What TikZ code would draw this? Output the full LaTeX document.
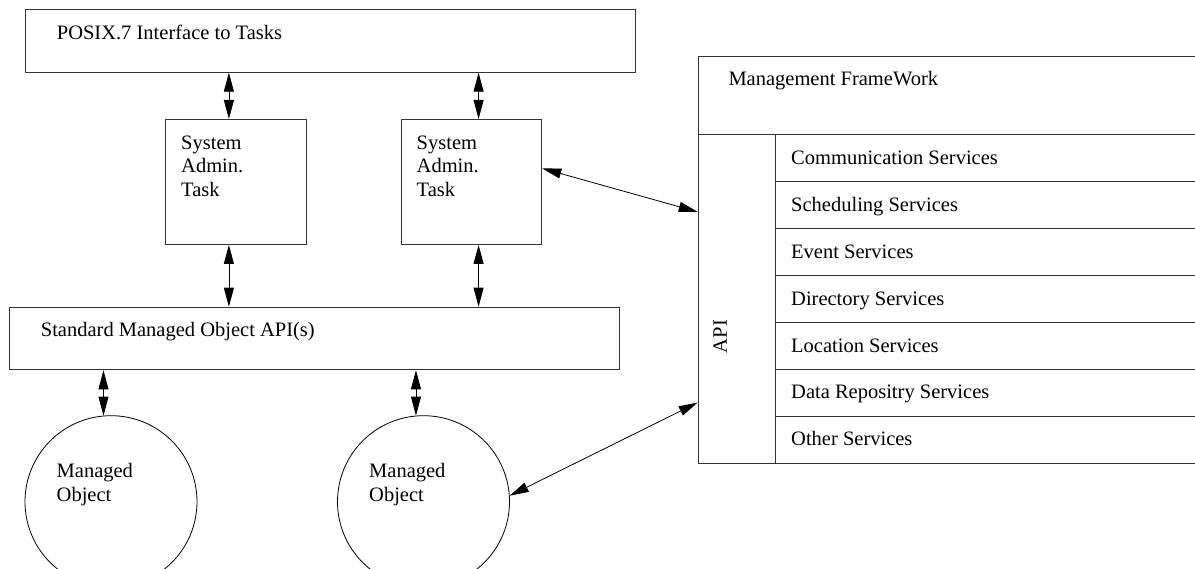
\documentclass[tikz,border=0pt]{standalone}
\usepackage{fontspec}
\setmainfont{Liberation Serif}
\usetikzlibrary{arrows.meta,calc}
\begin{document}
\begin{tikzpicture}[x=1pt,y=-1pt,
  box/.style={draw=black!80, line width=1pt, inner sep=0pt, anchor=north west},
  lbl/.style={anchor=base west, inner sep=0pt, font=\fontsize{20.5}{23.7}\selectfont},
  ml/.style={anchor=north west, inner sep=0pt, align=left, font=\fontsize{20.5}{23.7}\selectfont},
  arr/.style={{Triangle[length=19pt,width=10pt]}-{Triangle[length=19pt,width=10pt]}, line width=0.8pt},
  obj/.style={draw, circle, line width=0.8pt, minimum size=172pt, inner sep=0pt}]
\useasboundingbox (0,0) rectangle (1195,569);
\clip (0,0) rectangle (1195,569);
% top interface box
\node[box, minimum width=610.3pt, minimum height=62.4pt] (posix) at (24.7,9.3) {};
\node[lbl] (posixt) at (56.7,39.3) {POSIX.7 Interface to Tasks};
% system admin tasks
\node[box, minimum width=141pt, minimum height=125pt] (sa1) at (165,119) {};
\node[ml] (sa1t) at (181,135.3) {System\\Admin.\\Task};
\node[box, minimum width=140.6pt, minimum height=125pt] (sa2) at (400.7,119) {};
\node[ml] (sa2t) at (416.5,135.3) {System\\Admin.\\Task};
% standard managed object API
\node[box, minimum width=610.3pt, minimum height=62.6pt] (std) at (9,306.7) {};
\node[lbl] (stdt) at (40.7,336.7) {Standard Managed Object API(s)};
% managed objects
\node[obj] (c1) at (111,501.7) {};
\node[ml] (c1t) at (56.5,463) {Managed\\Object};
\node[obj] (c2) at (423.5,501.7) {};
\node[ml] (c2t) at (369,463) {Managed\\Object};
% management framework
\node[box, minimum width=510pt, minimum height=78.3pt] (fw) at (697.7,56) {};
\node[lbl] (fwt) at (728.3,86) {Management FrameWork};
\node[box, minimum width=77.3pt, minimum height=328.7pt] (apicol) at (697.7,134.3) {};
\node[lbl, anchor=center, rotate=90] (apit) at (720,336.5) {API};
\node[box, minimum width=430pt, minimum height=47pt] (r1) at (775,134.3) {};
\node[box, minimum width=430pt, minimum height=47pt] (r2) at (775,181.3) {};
\node[box, minimum width=430pt, minimum height=47pt] (r3) at (775,228.3) {};
\node[box, minimum width=430pt, minimum height=47pt] (r4) at (775,275.3) {};
\node[box, minimum width=430pt, minimum height=47pt] (r5) at (775,322.3) {};
\node[box, minimum width=430pt, minimum height=46.7pt] (r6) at (775,369.3) {};
\node[box, minimum width=430pt, minimum height=46.7pt] (r7) at (775,416) {};
\node[lbl] (s1) at (791,164.3) {Communication Services};
\node[lbl] (s2) at (791,211.3) {Scheduling Services};
\node[lbl] (s3) at (791,258.3) {Event Services};
\node[lbl] (s4) at (791,305.3) {Directory Services};
\node[lbl] (s5) at (791,352.3) {Location Services};
\node[lbl] (s6) at (791,399) {Data Repositry Services};
\node[lbl] (s7) at (791,446) {Other Services};
% connectors
\coordinate (a1t) at ($(sa1.north west)!0.45!(sa1.north east)$);
\coordinate (a1b) at ($(sa1.south west)!0.45!(sa1.south east)$);
\coordinate (a2t) at ($(sa2.north west)!0.55!(sa2.north east)$);
\coordinate (a2b) at ($(sa2.south west)!0.55!(sa2.south east)$);
\draw[arr] (a1t |- posix.south) -- (a1t);
\draw[arr] (a2t |- posix.south) -- (a2t);
\draw[arr] (a1b) -- (a1b |- std.north);
\draw[arr] (a2b) -- (a2b |- std.north);
\draw[arr] (c1.95 |- std.south) -- (c1.95);
\draw[arr] (c2.95 |- std.south) -- (c2.95);
\draw[arr] ($(sa2.north east)!0.392!(sa2.south east)$) -- ($(apicol.north west)!0.2355!(apicol.south west)$);
\draw[arr] (c2.4) -- ($(apicol.north west)!0.8135!(apicol.south west)$);
\end{tikzpicture}
\end{document}
